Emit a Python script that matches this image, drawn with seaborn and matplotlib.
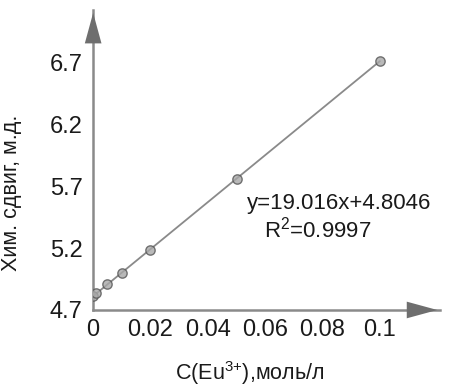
import matplotlib
matplotlib.use("Agg")
import matplotlib.pyplot as plt
import seaborn as sns
import pandas as pd

# концентрація Eu3+ та хім. зсув
conc = [0.0, 0.001, 0.005, 0.01, 0.02, 0.05, 0.1]
shift = [4.81, 4.84, 4.91, 5.00, 5.18, 5.76, 6.71]
x_ticks = [0, 0.02, 0.04, 0.06, 0.08, 0.1]
x_tick_labels = ["0", "0.02", "0.04", "0.06", "0.08", "0.1"]
y_ticks = [4.7, 5.2, 5.7, 6.2, 6.7]
y_tick_labels = ["4.7", "5.2", "5.7", "6.2", "6.7"]
eq_text = "y=19.016x+4.8046"
r2_text = "R$^2$=0.9997"

df = pd.DataFrame({"conc": conc, "shift": shift})

sns.set_style("white")
plt.rcParams["font.family"] = ["Liberation Sans", "DejaVu Sans"]
plt.rcParams["mathtext.fontset"] = "custom"
plt.rcParams["mathtext.rm"] = "Liberation Sans"
plt.rcParams["mathtext.it"] = "Liberation Sans"

fig = plt.figure(figsize=(4.5, 3.87), dpi=100)
ax = fig.add_axes([0.207, 0.199, 0.771, 0.775])

sns.regplot(data=df, x="conc", y="shift", ax=ax, ci=None,
            scatter_kws=dict(s=45, color="#a8a8a8", edgecolors="#555555",
                             linewidths=1.0, zorder=3),
            line_kws=dict(color="#8a8a8a", lw=1.3, zorder=2))

ax.set_xlim(0, 0.121)
ax.set_ylim(4.7, 7.12)
ax.set_xticks(x_ticks)
ax.set_xticklabels(x_tick_labels)
ax.set_yticks(y_ticks)
ax.set_yticklabels(y_tick_labels)
ax.tick_params(axis="both", labelsize=17, colors="#1a1a1a", direction="inout",
               length=5, width=1, color="#8a8a8a")
ax.tick_params(axis="x", pad=4)
ax.tick_params(axis="y", pad=5)

for s in ["top", "right"]:
    ax.spines[s].set_visible(False)
for s in ["left", "bottom"]:
    ax.spines[s].set_color("#8a8a8a")
    ax.spines[s].set_linewidth(1.8)

ax.set_xlabel("C(Eu$^{3{+}}$),моль/л", fontsize=15.5, color="#1a1a1a")
ax.set_ylabel("Хим. сдвиг, м.д.", fontsize=15.5, color="#1a1a1a")
ax.xaxis.set_label_coords(0.45, -0.165)
ax.yaxis.set_label_coords(-0.205, 0.39)

# стрілки на осях
arrow = dict(arrowstyle="-|>,head_length=1.1,head_width=0.3", color="#6e6e6e",
             mutation_scale=20, lw=0)
ax.annotate("", xy=(0, 1.0), xytext=(0, 0.88), xycoords="axes fraction",
            arrowprops=arrow, annotation_clip=False)
ax.annotate("", xy=(1.0, 0), xytext=(0.9, 0), xycoords="axes fraction",
            arrowprops=arrow, annotation_clip=False)

ax.text(0.0857, 5.56, eq_text, ha="center", va="center", fontsize=16, color="#1a1a1a")
ax.text(0.0782, 5.35, r2_text, ha="center", va="center", fontsize=16, color="#1a1a1a")

fig.savefig("out.png", dpi=100)
